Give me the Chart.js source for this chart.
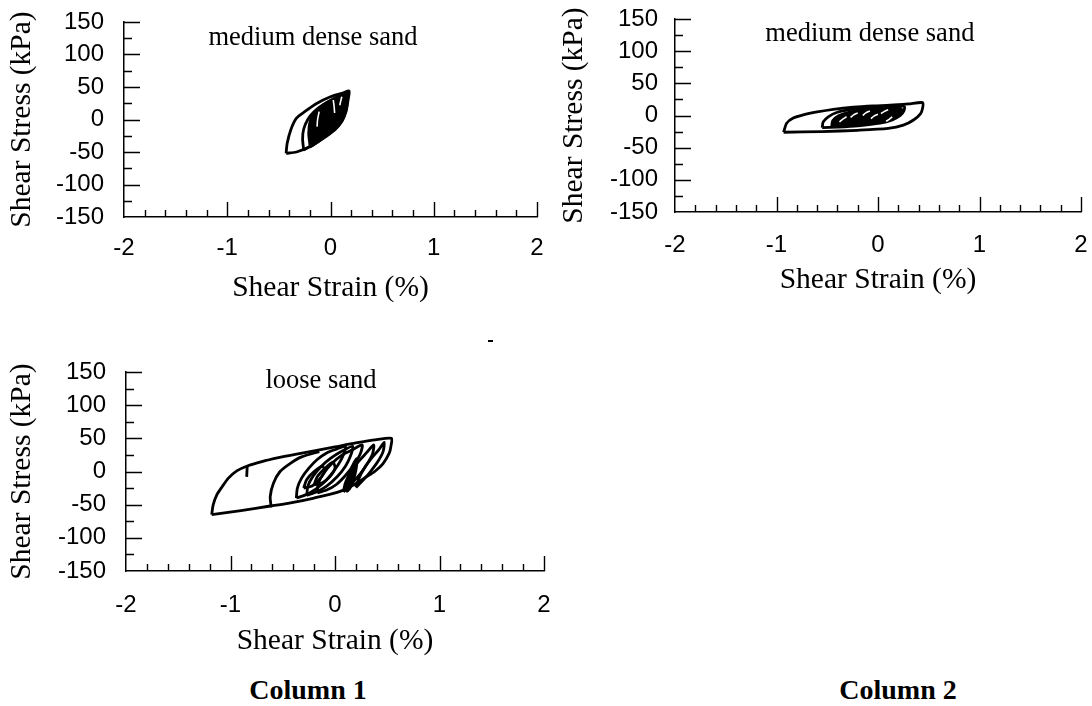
<!DOCTYPE html>
<html>
<head>
<meta charset="utf-8">
<title>Shear stress vs shear strain</title>
<script src="https://cdn.jsdelivr.net/npm/chart.js@4.4.0/dist/chart.umd.min.js"></script>
<style>
  html, body { margin: 0; padding: 0; background: #fff; }
  body { width: 1092px; height: 706px; position: relative; overflow: hidden; }
  canvas { position: absolute; }
  .col-label {
    position: absolute;
    font: bold 28px "Liberation Serif", "Times New Roman", serif;
    color: #000;
    transform: translate(-50%, -50%);
    white-space: nowrap;
  }
  .speck { position: absolute; left: 488px; top: 340px; width: 5px; height: 2px; background: #000; }
</style>
</head>
<body>
<canvas id="panel-a" width="560" height="320" style="left:0;top:0"></canvas>
<canvas id="panel-b" width="546" height="320" style="left:546px;top:0"></canvas>
<canvas id="panel-c" width="560" height="330" style="left:0;top:330px"></canvas>
<div class="speck"></div>
<div class="col-label" style="left:308px;top:690px">Column 1</div>
<div class="col-label" style="left:898px;top:690px">Column 2</div>

<script>
// axis ticks
const strainTicks = [-2, -1, 0, 1, 2];
const stressTicks = [-150, -100, -50, 0, 50, 100, 150];
const xAxisTitle = 'Shear Strain (%)';
const yAxisTitle = 'Shear Stress (kPa)';
const panelNames = ['medium dense sand', 'medium dense sand', 'loose sand'];

// panel A - medium dense sand (column 1) : [strain %, stress kPa]
const denseA_outer = [[-0.43,-52],[-0.42,-37],[-0.385,-16],[-0.33,2],[-0.25,12],[-0.13,25],[0,35],[0.125,41],[0.18,44],[0.17,30],[0.15,12],[0.11,-3],[0.04,-16],[-0.07,-29],[-0.2,-42],[-0.33,-50],[-0.43,-52]];
const denseA_inner = [[-0.26,-47],[-0.27,-30],[-0.26,-15],[-0.22,0],[-0.16,12],[-0.06,24],[0.05,33],[0.16,41],[0.15,25],[0.11,8],[0.05,-6],[-0.05,-20],[-0.15,-36],[-0.26,-47]];
const denseA_core = [[-0.2,-43],[-0.215,-21],[-0.2,-2],[-0.16,10],[-0.1,20],[0,30],[0.1,38],[0.17,42],[0.17,30],[0.15,12],[0.11,-3],[0.04,-16],[-0.07,-29],[-0.15,-38],[-0.2,-43]];
const denseA_gaps = [
  [[-0.13,-11],[-0.125,0],[-0.11,12]],
  [[0.04,10],[0.035,20],[0.027,30]],
  [[0.09,22],[0.1,29],[0.11,35]]
];

// panel B - medium dense sand (column 2)
const denseB_outer = [[-0.93,-26],[-0.9,-12],[-0.835,-4],[-0.736,1],[-0.6,5.5],[-0.44,9.6],[-0.243,13],[-0.046,15],[0.118,16],[0.3,18],[0.44,20],[0.44,12],[0.42,3],[0.35,-7],[0.25,-15],[0.1,-20],[-0.2,-23],[-0.55,-25],[-0.93,-26]];
const denseB_inner = [[-0.55,-19],[-0.54,-10],[-0.49,-2],[-0.4,5],[-0.28,9],[-0.12,12],[0.05,13.5],[0.2,14.5],[0.26,14],[0.255,7],[0.22,0],[0.14,-7],[0.02,-12],[-0.2,-16],[-0.4,-18],[-0.55,-19]];
const denseB_core = [[-0.46,-17],[-0.45,-8],[-0.39,0],[-0.28,6],[-0.12,10],[0.05,12],[0.2,13],[0.24,9],[0.21,1],[0.13,-6],[0.01,-11],[-0.2,-15],[-0.46,-17]];
const denseB_gaps = [
  [[-0.38,-10],[-0.35,-6],[-0.31,-2]],
  [[-0.27,-3],[-0.24,1],[-0.2,4]],
  [[-0.15,0],[-0.12,4],[-0.08,7]],
  [[-0.07,-5],[-0.04,-1],[0,2]],
  [[0.03,3],[0.06,6],[0.1,9]],
  [[0.08,-9],[0.11,-6],[0.14,-2]]
];

// panel C - loose sand (column 1)
const looseC_outer = [[-1.18,-65],[-1.165,-50],[-1.13,-35],[-1.08,-23],[-1.02,-10],[-0.94,1],[-0.845,8],[-0.7,15],[-0.54,21],[-0.38,26],[-0.2,31],[0,37],[0.2,43],[0.4,48],[0.54,50],[0.535,38],[0.52,28],[0.46,12],[0.38,0],[0.3,-8],[0.18,-20],[0.05,-30],[-0.2,-40],[-0.45,-48],[-0.62,-52],[-0.9,-59],[-1.18,-65]];
const looseC_second = [[-0.61,-54],[-0.62,-38],[-0.59,-18],[-0.526,0],[-0.43,12],[-0.32,22],[-0.15,30]];
const looseC_mark = [[-0.84,8],[-0.845,-8]];
const looseC_loops = [
  [[-0.37,-40],[-0.36,-25],[-0.32,-10],[-0.25,5],[-0.17,18],[-0.08,28],[0.02,34],[0.1,38],[0.08,25],[0.03,10],[-0.04,-5],[-0.13,-20],[-0.25,-33],[-0.37,-40]],
  [[-0.27,-36],[-0.26,-22],[-0.21,-7],[-0.13,8],[-0.04,20],[0.06,30],[0.17,38],[0.15,24],[0.1,8],[0.02,-8],[-0.08,-22],[-0.18,-31],[-0.27,-36]],
  [[-0.17,-32],[-0.16,-18],[-0.11,-3],[-0.03,12],[0.07,25],[0.17,33],[0.26,40],[0.24,26],[0.18,10],[0.1,-6],[0.01,-20],[-0.08,-28],[-0.17,-32]],
  [[-0.3,-25],[-0.27,-12],[-0.2,0],[-0.12,8],[-0.1,0],[-0.15,-12],[-0.22,-22],[-0.3,-25]],
  [[-0.2,-20],[-0.17,-8],[-0.1,4],[-0.02,14],[0,5],[-0.05,-8],[-0.12,-17],[-0.2,-20]],
  [[0.08,-31],[0.1,-17],[0.15,-2],[0.22,14],[0.3,28],[0.37,40],[0.36,27],[0.31,12],[0.24,-4],[0.16,-18],[0.08,-31]],
  [[0.2,-24],[0.23,-10],[0.28,5],[0.35,20],[0.42,33],[0.47,44],[0.46,30],[0.41,15],[0.34,0],[0.27,-13],[0.2,-24]]
];
const looseC_core = [[0.1,-29],[0.11,-15],[0.14,0],[0.18,14],[0.21,20],[0.21,8],[0.19,-8],[0.16,-22],[0.12,-30],[0.1,-29]];

const tickFont = { family: '"Liberation Sans", Arial, sans-serif', size: 24 };
const titleFont = { family: '"Liberation Serif", "Times New Roman", serif', size: 29.5 };

function toXY(points) {
  return points.map(p => ({ x: p[0], y: p[1] }));
}

// plain black hysteresis line
function curve(points) {
  return { data: toXY(points), borderColor: '#000', borderWidth: 2.8, pointRadius: 0, fill: false, tension: 0.25, order: 2 };
}

// solid black area where the loops are packed together
function solid(points) {
  return { data: toXY(points), borderColor: '#000', borderWidth: 2, backgroundColor: '#000', pointRadius: 0, fill: 'shape', tension: 0.25, order: 3 };
}

// thin white gaps between packed loops
function gap(points) {
  return { data: toXY(points), borderColor: '#fff', borderWidth: 1.6, pointRadius: 0, fill: false, tension: 0.3, order: 1 };
}

// inward tick marks like the original axes
const innerTicks = {
  id: 'innerTicks',
  afterDraw(chart) {
    const { ctx, chartArea: a, scales: { x, y } } = chart;
    ctx.save();
    ctx.strokeStyle = '#000';
    ctx.lineWidth = 1.4;
    ctx.beginPath();
    for (let v = stressTicks[0] + 25; v <= stressTicks[stressTicks.length - 1]; v += 25) {
      const py = Math.round(y.getPixelForValue(v)) + 0.5;
      const len = v % 50 === 0 ? 16 : 8;
      ctx.moveTo(a.left, py);
      ctx.lineTo(a.left + len, py);
    }
    for (let i = 1; i <= 20; i++) {
      const v = strainTicks[0] + i * 0.2;
      const px = Math.round(x.getPixelForValue(v)) + 0.5;
      const len = i % 5 === 0 ? 15 : 7;
      ctx.moveTo(px, a.bottom);
      ctx.lineTo(px, a.bottom - len);
    }
    ctx.stroke();
    ctx.restore();
  }
};

// sand type written inside the plot
const sandLabel = {
  id: 'sandLabel',
  afterDraw(chart, args, opts) {
    const { ctx, scales: { x, y } } = chart;
    ctx.save();
    ctx.fillStyle = '#000';
    ctx.font = '26.5px "Liberation Serif", "Times New Roman", serif';
    ctx.textAlign = 'center';
    ctx.textBaseline = 'middle';
    ctx.fillText(opts.text, x.getPixelForValue(opts.x), y.getPixelForValue(opts.y));
    ctx.restore();
  }
};

function makePanel(id, datasets, lay, label) {
  return new Chart(document.getElementById(id), {
    type: 'line',
    data: { datasets: datasets },
    plugins: [innerTicks, sandLabel],
    options: {
      responsive: false,
      animation: false,
      devicePixelRatio: 1,
      layout: { padding: { top: lay.padTop, right: lay.padRight, left: 0, bottom: 0 } },
      plugins: {
        legend: { display: false },
        tooltip: { enabled: false },
        sandLabel: label
      },
      scales: {
        x: {
          type: 'linear',
          min: strainTicks[0],
          max: strainTicks[strainTicks.length - 1],
          ticks: { stepSize: 1, font: tickFont, color: '#000', padding: lay.xLabelPad, maxRotation: 0, autoSkip: false },
          grid: { display: false, drawTicks: false },
          border: { display: true, color: '#000', width: 1.5 },
          title: { display: true, text: xAxisTitle, font: titleFont, color: '#000', padding: { top: 0, bottom: lay.xTitlePad } },
          afterFit(scale) {
            scale.height = lay.xHeight;
            scale.paddingLeft = 0;
            scale.paddingRight = 0;
          }
        },
        y: {
          type: 'linear',
          min: stressTicks[0],
          max: stressTicks[stressTicks.length - 1],
          ticks: { stepSize: 50, font: tickFont, color: '#000', padding: lay.yLabelPad, autoSkip: false },
          grid: { display: false, drawTicks: false },
          border: { display: true, color: '#000', width: 1.5 },
          title: { display: true, text: yAxisTitle, font: titleFont, color: '#000', padding: { top: lay.yTitlePad, bottom: 0 } },
          afterFit(scale) {
            scale.width = lay.yWidth;
            scale.paddingTop = 0;
            scale.paddingBottom = 0;
          }
        }
      }
    }
  });
}

makePanel('panel-a',
  [curve(denseA_outer), curve(denseA_inner), solid(denseA_core)].concat(denseA_gaps.map(gap)),
  { padTop: 22, padRight: 23, yWidth: 124, xHeight: 103, yLabelPad: 20, yTitlePad: 5, xLabelPad: 16.5, xTitlePad: 14 },
  { text: panelNames[0], x: -0.17, y: 126 });

makePanel('panel-b',
  [curve(denseB_outer), curve(denseB_inner), solid(denseB_core)].concat(denseB_gaps.map(gap)),
  { padTop: 19, padRight: 11, yWidth: 129, xHeight: 108, yLabelPad: 17, yTitlePad: 11, xLabelPad: 18.5, xTitlePad: 22 },
  { text: panelNames[1], x: -0.08, y: 126 });

makePanel('panel-c',
  [curve(looseC_outer), curve(looseC_second), curve(looseC_mark)].concat(looseC_loops.map(curve), [solid(looseC_core)]),
  { padTop: 42, padRight: 16, yWidth: 126, xHeight: 89, yLabelPad: 20, yTitlePad: 5, xLabelPad: 19.5, xTitlePad: 1 },
  { text: panelNames[2], x: -0.134, y: 136 });
</script>
</body>
</html>
